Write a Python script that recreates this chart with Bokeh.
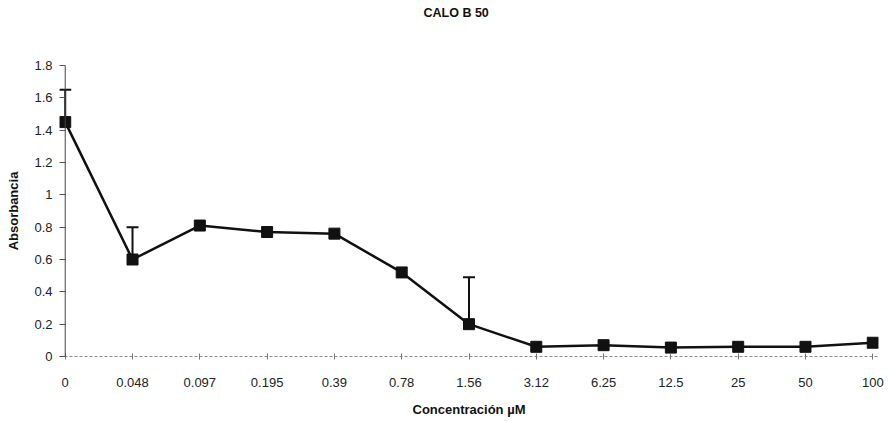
from bokeh.plotting import figure
from bokeh.models import FixedTicker, Whisker, ColumnDataSource, TeeHead, Range1d, Title, Span
from bokeh.embed import file_html
from bokeh.resources import INLINE

categories = ["0", "0.048", "0.097", "0.195", "0.39", "0.78", "1.56", "3.12", "6.25", "12.5", "25", "50", "100"]
absorbance = [1.45, 0.60, 0.81, 0.77, 0.76, 0.52, 0.20, 0.06, 0.07, 0.055, 0.06, 0.06, 0.085]
err_categories = ["0", "0.048", "1.56"]
err_upper = [1.65, 0.80, 0.49]
y_ticks = [0, 0.2, 0.4, 0.6, 0.8, 1.0, 1.2, 1.4, 1.6, 1.8]
y_tick_labels = ["0", "0.2", "0.4", "0.6", "0.8", "1", "1.2", "1.4", "1.6", "1.8"]
title_text = "CALO B 50"

xs = list(range(len(categories)))
FONT = "Liberation Sans"
PAD = 0.085  # small padding so end markers are not clipped

p = figure(width=890, height=419, output_backend="svg", toolbar_location=None,
           x_range=Range1d(-PAD, len(categories) - 1 + PAD), y_range=Range1d(0, 1.8),
           min_border_left=59, min_border_right=12, min_border_top=65, min_border_bottom=61)
p.outline_line_color = None
p.grid.visible = False
p.background_fill_color = "white"
p.border_fill_color = "white"

# spacer between title and frame (nearest the frame)
p.add_layout(Title(text=" ", standoff=43, text_font_size="1px", text_color="white"), "above")
p.title = Title(text=title_text, align="left", offset=364, standoff=0, text_font=FONT,
                text_font_size="12.5px", text_font_style="bold", text_color="#111111")

# y axis line drawn at the first category position
p.add_layout(Span(location=xs[0], dimension="height", line_color="#444444", line_width=1))

src = ColumnDataSource(dict(x=xs, y=absorbance))
ex = [categories.index(c) for c in err_categories]
ey = [absorbance[i] for i in ex]
esrc = ColumnDataSource(dict(x=ex, lower=ey, upper=err_upper))
w = Whisker(source=esrc, base="x", lower="lower", upper="upper", line_color="#111111", line_width=2,
            upper_head=TeeHead(size=12, line_color="#111111", line_width=2), lower_head=None)
p.add_layout(w)

p.line("x", "y", source=src, line_color="#111111", line_width=2.5)
p.scatter("x", "y", source=src, marker="square", size=11, fill_color="#111111", line_color="#111111")

xa = p.xaxis[0]
xa.ticker = FixedTicker(ticks=xs)
xa.major_label_overrides = {i: c for i, c in zip(xs, categories)}
xa.axis_line_color = "#8a8a8a"
xa.axis_line_dash = "3 2"
xa.axis_line_width = 1
xa.major_tick_line_color = "#777777"
xa.major_tick_in = 3
xa.major_tick_out = 3
xa.minor_tick_line_color = None
xa.major_label_standoff = 18
xa.major_label_text_font = FONT
xa.major_label_text_font_size = "13px"
xa.major_label_text_color = "#222222"
xa.axis_label = "Concentración µM"
xa.axis_label_text_font = FONT
xa.axis_label_text_font_size = "13px"
xa.axis_label_text_font_style = "bold"
xa.axis_label_text_color = "#111111"
xa.axis_label_standoff = 12

ya = p.yaxis[0]
ya.ticker = FixedTicker(ticks=y_ticks)
ya.major_label_overrides = {t: l for t, l in zip(y_ticks, y_tick_labels)}
ya.axis_line_color = None
ya.major_tick_line_color = "#555555"
ya.major_tick_in = 6
ya.major_tick_out = 0
ya.minor_tick_line_color = None
ya.major_label_standoff = 7
ya.major_label_text_font = FONT
ya.major_label_text_font_size = "13px"
ya.major_label_text_color = "#222222"
ya.axis_label = "Absorbancia"
ya.axis_label_text_font = FONT
ya.axis_label_text_font_size = "13px"
ya.axis_label_text_font_style = "bold"
ya.axis_label_text_color = "#111111"
ya.axis_label_standoff = 10

open("out.html", "w").write(file_html(p, INLINE))
